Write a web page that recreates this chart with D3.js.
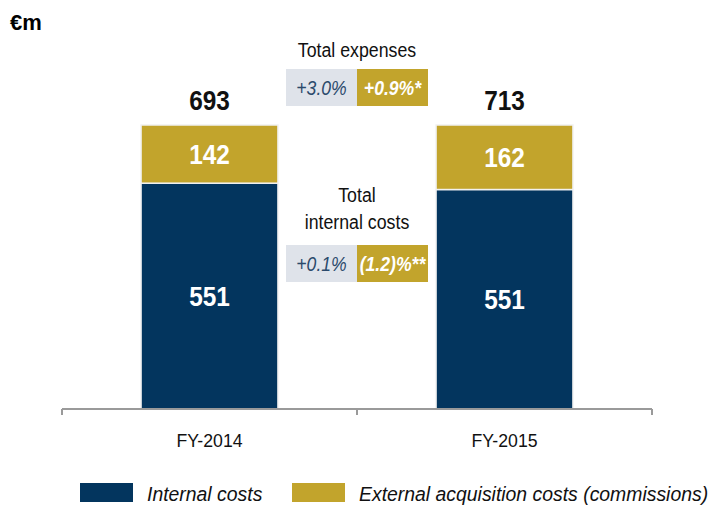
<!DOCTYPE html>
<html>
<head>
<meta charset="utf-8">
<script src="https://cdn.jsdelivr.net/npm/d3@7"></script>
<style>
  body { margin: 0; background: #fff; }
  text { font-family: "Liberation Sans", Arial, sans-serif; }
</style>
</head>
<body>
<script>
const YEARS = ["FY-2014", "FY-2015"];
const INTERNAL = [551, 551];
const EXTERNAL = [142, 162];
const TOTALS = [693, 713];
const SERIES = ["Internal costs", "External acquisition costs (commissions)"];
const EXP_TITLE = ["Total expenses"];
const EXP_CHANGE = ["+3.0%", "+0.9%*"];
const INT_TITLE = ["Total", "internal costs"];
const INT_CHANGE = ["+0.1%", "(1.2)%**"];

const WIDTH = 715;
const HEIGHT = 506;
const NAVY = "#03355e";
const GOLD = "#c2a42c";

const svg = d3
  .select("body")
  .append("svg")
  .attr("width", WIDTH)
  .attr("height", HEIGHT);

// text in the reference is a bit narrower than Arial
const condense = (k) => (sel) =>
  sel.each(function () {
    const w = this.getComputedTextLength();
    d3.select(this)
      .attr("textLength", w * k)
      .attr("lengthAdjust", "spacingAndGlyphs");
  });

const x = d3
  .scaleBand()
  .domain(YEARS)
  .range([62, 652])
  .paddingInner(0.536)
  .paddingOuter(0.268);

// every bar is drawn to the same height (share of its total)
const y = d3.scaleLinear().domain([0, 1]).range([409, 125]);

const rows = YEARS.map((yr, i) => ({
  year: yr,
  internal: INTERNAL[i] / TOTALS[i],
  external: EXTERNAL[i] / TOTALS[i],
  vInternal: INTERNAL[i],
  vExternal: EXTERNAL[i],
  total: TOTALS[i],
}));
const stack = d3.stack().keys(["internal", "external"])(rows);
const colors = [NAVY, GOLD];

svg
  .append("text")
  .attr("x", 10)
  .attr("y", 30)
  .attr("font-size", 22)
  .attr("font-weight", "bold")
  .text("€m");

const layer = svg
  .selectAll("g.layer")
  .data(stack)
  .enter()
  .append("g")
  .attr("class", "layer")
  .attr("fill", (d, i) => colors[i]);

layer
  .selectAll("rect")
  .data((d) => d)
  .enter()
  .append("rect")
  .attr("x", (d) => x(d.data.year))
  .attr("width", x.bandwidth())
  .attr("y", (d) => y(d[1]))
  .attr("height", (d) => y(d[0]) - y(d[1]))
  .attr("stroke", "#f1f1f1")
  .attr("stroke-width", 1.5);

layer
  .selectAll("text")
  .data((d) => d.map((p) => ({ p, key: d.key })))
  .enter()
  .append("text")
  .attr("x", (d) => x(d.p.data.year) + x.bandwidth() / 2)
  .attr("y", (d) => (y(d.p[0]) + y(d.p[1])) / 2 + 10)
  .attr("text-anchor", "middle")
  .attr("fill", "#fff")
  .attr("font-size", 28)
  .attr("font-weight", "bold")
  .text((d) => (d.key === "internal" ? d.p.data.vInternal : d.p.data.vExternal))
  .call(condense(0.87));

svg
  .selectAll("text.total")
  .data(rows)
  .enter()
  .append("text")
  .attr("class", "total")
  .attr("x", (d) => x(d.year) + x.bandwidth() / 2)
  .attr("y", y(1) - 15)
  .attr("text-anchor", "middle")
  .attr("font-size", 28)
  .attr("font-weight", "bold")
  .attr("fill", "#111")
  .text((d) => d.total)
  .call(condense(0.87));

// axis
const axis = svg
  .append("g")
  .attr("transform", `translate(0, ${y(0)})`)
  .call(d3.axisBottom(x).tickSize(0).tickPadding(0).tickFormat(""));
axis.select(".domain").remove();
axis.selectAll(".tick").remove();
const edges = [62, (x(YEARS[0]) + x.bandwidth() + x(YEARS[1])) / 2, 652];
axis
  .append("line")
  .attr("x1", 62)
  .attr("x2", 652)
  .attr("stroke", "#9a9a9a")
  .attr("stroke-width", 2);
axis
  .selectAll("line.sep")
  .data(edges)
  .enter()
  .append("line")
  .attr("class", "sep")
  .attr("x1", (d) => d)
  .attr("x2", (d) => d)
  .attr("y1", 0)
  .attr("y2", 6)
  .attr("stroke", "#9a9a9a")
  .attr("stroke-width", 2);
axis
  .selectAll("text.lbl")
  .data(YEARS)
  .enter()
  .append("text")
  .attr("class", "lbl")
  .attr("x", (d) => x(d) + x.bandwidth() / 2)
  .attr("y", 38)
  .attr("text-anchor", "middle")
  .attr("font-size", 19)
  .attr("fill", "#111")
  .text((d) => d)
  .call(condense(0.93));

// growth annotations in the gap between bars
const mid = edges[1];
const note = (titles, firstBase, changes, boxTop) => {
  svg
    .selectAll(null)
    .data(titles)
    .enter()
    .append("text")
    .attr("x", mid)
    .attr("y", (d, i) => firstBase + i * 27)
    .attr("text-anchor", "middle")
    .attr("font-size", 19.5)
    .attr("fill", "#111")
    .text((d) => d)
    .call(condense(0.91));
  const g = svg.append("g").attr("transform", `translate(${mid}, ${boxTop})`);
  g.selectAll("rect")
    .data(changes)
    .enter()
    .append("rect")
    .attr("x", (d, i) => (i === 0 ? -71 : 0))
    .attr("width", 71)
    .attr("height", 37)
    .attr("fill", (d, i) => (i === 0 ? "#dfe3ea" : GOLD));
  g.selectAll("text")
    .data(changes)
    .enter()
    .append("text")
    .attr("x", (d, i) => (i === 0 ? -35.5 : 35.5))
    .attr("y", 26)
    .attr("text-anchor", "middle")
    .attr("font-size", 20)
    .attr("font-style", "italic")
    .attr("font-weight", (d, i) => (i === 0 ? "normal" : "bold"))
    .attr("fill", (d, i) => (i === 0 ? "#2b4a6c" : "#fff"))
    .text((d) => d)
    .call(condense(0.88));
};
note(EXP_TITLE, 57, EXP_CHANGE, 69);
note(INT_TITLE, 202, INT_CHANGE, 245);

// legend
const legend = svg
  .append("g")
  .selectAll("g")
  .data(SERIES)
  .enter()
  .append("g")
  .attr("transform", (d, i) => `translate(${i === 0 ? 80 : 292}, 483)`);
legend
  .append("rect")
  .attr("width", 53)
  .attr("height", 19)
  .attr("fill", (d, i) => colors[i]);
legend
  .append("text")
  .attr("x", 67)
  .attr("y", 18)
  .attr("font-size", 19.4)
  .attr("font-style", "italic")
  .attr("fill", "#111")
  .text((d) => d);
</script>
</body>
</html>
